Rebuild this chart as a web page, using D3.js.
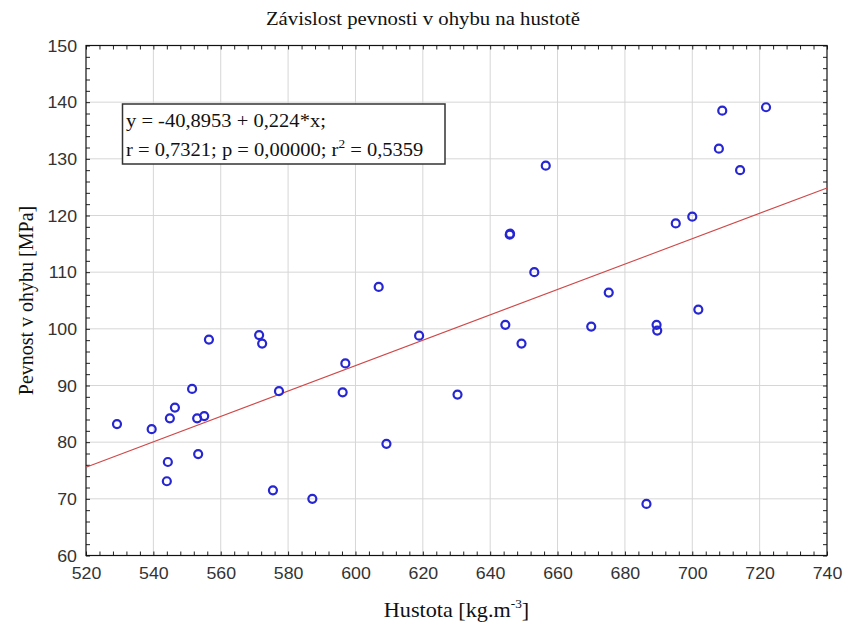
<!DOCTYPE html>
<html>
<head>
<meta charset="utf-8">
<script src="https://cdn.jsdelivr.net/npm/d3@7"></script>
<style>
	body { margin: 0; background: #fff; }
	svg { display: block; }
</style>
</head>
<body>
<script>
// hodnoty
const hustota = [529.2, 539.5, 544.3, 544.0, 544.9, 546.4, 551.5, 553.0, 555.1, 553.3,
	556.5, 571.4, 572.3, 577.3, 575.5, 587.2, 597.0, 596.2, 606.9, 618.9,
	630.3, 609.2, 645.9, 645.8, 644.5, 649.3, 653.1, 656.5, 675.2, 670.0,
	689.4, 689.6, 686.4, 695.1, 700.0, 701.8, 707.9, 708.9, 714.2, 721.9];
const pevnost = [83.2, 82.3, 76.5, 73.1, 84.2, 86.1, 89.4, 84.2, 84.6, 77.9,
	98.1, 98.9, 97.4, 89.0, 71.5, 70.0, 93.9, 88.8, 107.4, 98.8,
	88.4, 79.7, 116.8, 116.6, 100.7, 97.4, 110.0, 128.8, 106.4, 100.4,
	100.7, 99.7, 69.1, 118.6, 119.8, 103.4, 131.8, 138.5, 128.0, 139.1];
const xTicks = [520, 540, 560, 580, 600, 620, 640, 660, 680, 700, 720, 740];
const yTicks = [60, 70, 80, 90, 100, 110, 120, 130, 140, 150];
const xMinor = d3.range(520, 741, 4);
const yMinor = d3.range(60, 151, 2);
const intercept = -40.8953;
const slope = 0.224;

const width = 846, height = 626;
const mLeft = 86, mRight = 827, mTop = 45.5, mBottom = 555.5;
// puvodni obrazek je vodorovne trochu roztazeny
const sx = 1.11;

const x = d3.scaleLinear().domain([520, 740]).range([mLeft, mRight]);
const y = d3.scaleLinear().domain([60, 150]).range([mBottom, mTop]);

const svg = d3.select('body').append('svg')
	.attr('width', width)
	.attr('height', height);

// mrizka
svg.append('g')
	.selectAll('line')
	.data(xTicks.slice(1, -1))
	.join('line')
	.attr('x1', (d) => x(d)).attr('x2', (d) => x(d))
	.attr('y1', mTop).attr('y2', mBottom)
	.attr('stroke', '#d6d6d6');
svg.append('g')
	.selectAll('line')
	.data(yTicks.slice(1, -1))
	.join('line')
	.attr('y1', (d) => y(d)).attr('y2', (d) => y(d))
	.attr('x1', mLeft).attr('x2', mRight)
	.attr('stroke', '#d6d6d6');

// osy - carky dovnitr na vsech ctyrech stranach
const tickFont = '"Liberation Sans", Arial, sans-serif';
const styleAxis = (g) => {
	g.select('.domain').remove();
	g.selectAll('.tick line').attr('stroke', '#222');
};

svg.append('g')
	.attr('transform', `translate(0,${mBottom})`)
	.call(d3.axisBottom(x).tickValues(xMinor).tickSize(-4).tickFormat(''))
	.call(styleAxis);
svg.append('g')
	.attr('transform', `translate(0,${mTop})`)
	.call(d3.axisTop(x).tickValues(xMinor).tickSize(-4).tickFormat(''))
	.call(styleAxis);
svg.append('g')
	.attr('transform', `translate(${mLeft},0)`)
	.call(d3.axisLeft(y).tickValues(yMinor).tickSize(-4).tickFormat(''))
	.call(styleAxis);
svg.append('g')
	.attr('transform', `translate(${mRight},0)`)
	.call(d3.axisRight(y).tickValues(yMinor).tickSize(-4).tickFormat(''))
	.call(styleAxis);

// popisky os
svg.append('g')
	.attr('transform', `translate(0,${mBottom})`)
	.call(d3.axisBottom(x).tickValues(xTicks).tickSize(0).tickPadding(8).tickFormat(d3.format('d')))
	.call((g) => g.select('.domain').remove())
	.call((g) => g.selectAll('text')
		.attr('font-family', tickFont)
		.attr('font-size', 16)
		.attr('fill', '#333')
		.attr('dy', '1em')
		.attr('transform', `scale(${sx},1)`));
svg.append('g')
	.attr('transform', `translate(${mLeft},0)`)
	.call(d3.axisLeft(y).tickValues(yTicks).tickSize(0).tickPadding(9).tickFormat(d3.format('d')))
	.call((g) => g.select('.domain').remove())
	.call((g) => g.selectAll('text')
		.attr('font-family', tickFont)
		.attr('font-size', 16)
		.attr('fill', '#333')
		.attr('dy', '0.36em')
		.attr('x', -9 / sx)
		.attr('transform', `scale(${sx},1)`));

// ramecek
svg.append('rect')
	.attr('x', mLeft).attr('y', mTop)
	.attr('width', mRight - mLeft).attr('height', mBottom - mTop)
	.attr('fill', 'none')
	.attr('stroke', '#111')
	.attr('stroke-width', 1.2);

// regresni primka
svg.append('line')
	.attr('x1', x(520)).attr('y1', y(intercept + slope * 520))
	.attr('x2', x(740)).attr('y2', y(intercept + slope * 740))
	.attr('stroke', '#d04848')
	.attr('stroke-width', 1.1);

// body
svg.append('g')
	.selectAll('circle')
	.data(hustota)
	.join('circle')
	.attr('cx', (d) => x(d))
	.attr('cy', (d, i) => y(pevnost[i]))
	.attr('r', 4)
	.attr('fill', 'none')
	.attr('stroke', '#2626d2')
	.attr('stroke-width', 2.2);

// rovnice
const serif = '"Liberation Serif", "Times New Roman", serif';
svg.append('rect')
	.attr('x', 122.5).attr('y', 104)
	.attr('width', 322.5).attr('height', 60)
	.attr('fill', '#fff')
	.attr('stroke', '#333')
	.attr('stroke-width', 1.5);
const eq = svg.append('text')
	.attr('transform', `translate(126,0) scale(${sx},1)`)
	.attr('font-family', serif)
	.attr('font-size', 18.5)
	.attr('fill', '#111');
eq.append('tspan').attr('x', 0).attr('y', 127.5).text('y = -40,8953 + 0,224*x;');
const l2 = eq.append('tspan').attr('x', 0).attr('y', 156);
l2.append('tspan').text('r = 0,7321; p = 0,00000; r');
l2.append('tspan').attr('font-size', 12).attr('dy', -8).text('2');
l2.append('tspan').attr('dy', 8).text(' = 0,5359');

// titulek a popisky
svg.append('text')
	.attr('transform', `translate(${width / 2},25) scale(${sx},1)`)
	.attr('text-anchor', 'middle')
	.attr('font-family', serif)
	.attr('font-size', 18.7)
	.attr('fill', '#111')
	.text('Závislost pevnosti v ohybu na hustotě');

const xl = svg.append('text')
	.attr('transform', `translate(${(mLeft + mRight) / 2},617) scale(${sx},1)`)
	.attr('text-anchor', 'middle')
	.attr('font-family', serif)
	.attr('font-size', 20)
	.attr('fill', '#111');
xl.append('tspan').text('Hustota [kg.m');
xl.append('tspan').attr('font-size', 12).attr('dy', -9).text('-3');
xl.append('tspan').attr('dy', 9).text(']');

svg.append('text')
	.attr('transform', `translate(33,${(mTop + mBottom) / 2}) rotate(-90)`)
	.attr('text-anchor', 'middle')
	.attr('font-family', serif)
	.attr('font-size', 20)
	.attr('fill', '#111')
	.text('Pevnost v ohybu [MPa]');
</script>
</body>
</html>
